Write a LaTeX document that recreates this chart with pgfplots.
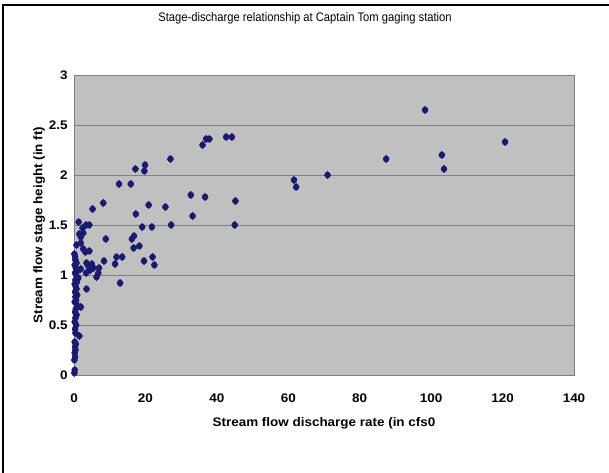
\documentclass[border=0pt]{standalone}
\usepackage{fontspec}
\setmainfont{Liberation Sans}
\newfontfamily\narrowfont[FakeStretch=0.9]{Liberation Sans}
\newfontfamily\widefont[FakeStretch=1.08]{Liberation Sans}
\usepackage{pgfplots}
\pgfplotsset{compat=1.18}
\definecolor{plotgray}{RGB}{192,192,192}
\definecolor{gridgray}{RGB}{128,128,128}
\definecolor{navy}{RGB}{26,26,112}
\pgfplotstableread{
x y
0.1 0.02
0.2 0.05
0.1 0.15
0.3 0.18
0.2 0.22
0.4 0.25
0.3 0.28
0.5 0.31
0.2 0.33
1.5 0.39
0.4 0.42
0.3 0.46
0.6 0.50
0.2 0.53
0.4 0.57
0.7 0.60
0.3 0.63
0.5 0.66
1.9 0.68
0.8 0.70
0.2 0.73
0.6 0.75
0.4 0.78
0.9 0.80
0.3 0.83
0.7 0.86
0.5 0.88
0.2 0.91
0.8 0.93
0.4 0.95
1.2 0.97
0.6 1.00
0.3 1.02
0.9 1.04
0.5 1.07
0.2 1.10
0.7 1.12
0.4 1.15
0.3 1.18
0.1 1.21
0.7 1.30
1.9 1.32
1.5 1.41
2.6 1.42
1.9 1.38
2.4 1.47
2.6 1.26
3.2 1.23
4.3 1.24
1.3 1.53
3.4 1.50
4.3 1.50
5.2 1.66
8.2 1.72
8.9 1.36
8.4 1.14
11.5 1.11
11.9 1.18
13.5 1.18
12.9 0.92
3.5 1.12
4.0 1.09
5.0 1.11
5.4 1.07
1.9 1.06
3.4 1.02
4.5 1.05
7.0 1.07
6.8 1.02
6.3 0.98
3.5 0.86
12.6 1.91
15.9 1.91
17.2 2.06
19.9 2.10
19.7 2.04
20.9 1.70
25.6 1.68
17.3 1.61
19.1 1.48
21.8 1.48
16.2 1.36
16.8 1.39
18.3 1.29
16.7 1.27
19.6 1.14
22.0 1.18
22.5 1.10
27.0 2.16
27.2 1.50
32.7 1.80
33.2 1.59
36.0 2.30
36.7 1.78
37.0 2.36
37.9 2.36
42.6 2.38
44.2 2.38
45.2 1.74
45.0 1.50
61.6 1.95
62.2 1.88
71.0 2.00
87.4 2.16
98.3 2.65
103.0 2.20
103.6 2.06
120.7 2.33
}\datatable
\begin{document}
\begin{tikzpicture}[x=1bp,y=1bp]
\path[use as bounding box, fill=white] (0,0) rectangle (609,473);
\draw[black, line width=2.2bp] (3,0) -- (3,468) -- (609,468);
\node[font=\narrowfont\fontsize{12.5}{14}\selectfont] at (305,455) {Stage-discharge relationship at Captain Tom gaging station};
\begin{axis}[
  at={(74bp,98bp)}, anchor=south west,
  scale only axis, width=500bp, height=300bp,
  xmin=0, xmax=140, ymin=0, ymax=3,
  xtick={0,20,...,140}, ytick={0,0.5,...,3},
  yticklabels={0,0.5,1,1.5,2,2.5,3},
  axis background/.style={fill=plotgray},
  axis line style={gridgray, line width=0.9bp},
  ymajorgrids, grid style={gridgray, line width=0.9bp},
  xtick style={draw=none}, ytick style={draw=none},
  /pgf/number format/assume math mode=true,
  tick label style={font=\widefont\bfseries\fontsize{12.5}{14}\selectfont},
  xticklabel style={yshift=-15bp},
  yticklabel style={xshift=-3bp},
  xlabel={Stream flow discharge rate (in cfs0},
  ylabel={Stream flow stage height (in ft)},
  label style={font=\widefont\bfseries\fontsize{12.5}{14}\selectfont},
  xlabel style={yshift=-8bp},
  ylabel style={yshift=-3bp},
]
\addplot[only marks, mark=diamond*, mark size=3.8bp, color=navy] table[x=x,y=y] {\datatable};
\addplot[only marks, mark=*, mark size=3bp, color=navy] table[x=x,y=y] {\datatable};
\end{axis}
\end{tikzpicture}
\end{document}
